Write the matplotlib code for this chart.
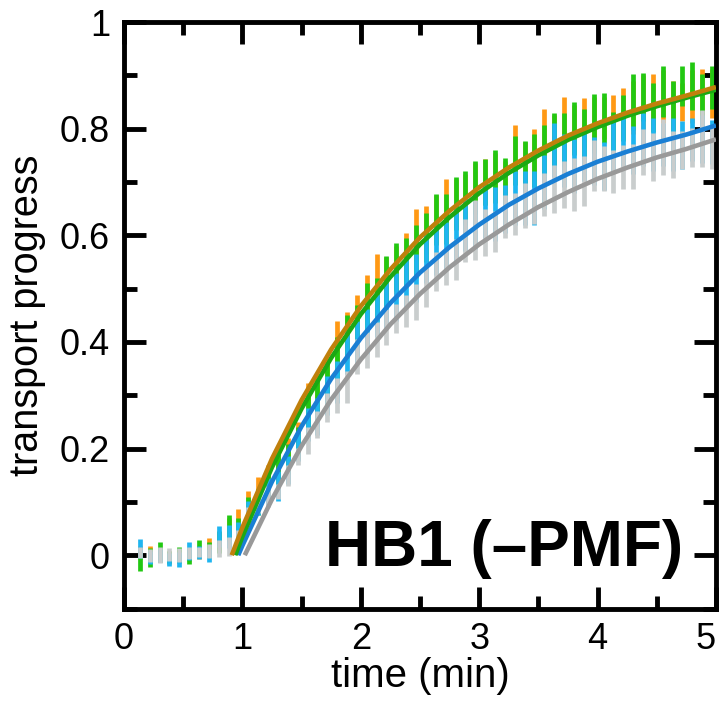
import matplotlib
matplotlib.use('Agg')
import matplotlib.pyplot as plt
import numpy as np

plt.rcParams['font.family'] = ['Liberation Sans', 'DejaVu Sans']

# sampling times (s), one bar every 5 s
times_s = np.arange(8, 300, 5)

orange_mean = [.005, .010, .000, -.003, .000, .000, .005, .016, .025, .048, .066,
               .095, .120, .140, .175, .190, .220, .285, .300, .330, .400,
               .415, .445, .480, .520, .515, .535, .560, .600, .610, .630,
               .660, .660, .670, .690, .700, .710, .700, .760, .730, .750,
               .790, .780, .810, .800, .810, .810, .820, .820, .830, .840,
               .850, .855, .860, .845, .850, .860, .865, .866]
orange_err = [.012, .008, .012, .010, .010, .010, .012, .016, .018, .022, .020,
              .025, .026, .030, .030, .030, .030, .038, .040, .040, .040,
              .041, .043, .046, .044, .045, .045, .045, .049, .045, .045,
              .046, .045, .045, .045, .043, .045, .040, .046, .045, .049,
              .047, .045, .050, .045, .047, .050, .040, .043, .047, .050,
              .050, .048, .050, .045, .035, .050, .047, .046]

green_mean = [-.010, -.005, .006, -.004, .000, -.003, .012, .010, .025, .054, .050,
              .085, .100, .130, .160, .180, .210, .265, .290, .320, .370,
              .410, .430, .465, .480, .515, .540, .550, .570, .595, .630,
              .630, .660, .670, .690, .700, .710, .700, .740, .730, .740,
              .760, .780, .780, .800, .790, .810, .820, .795, .820, .850,
              .860, .840, .870, .840, .880, .880, .860, .877]
green_err = [.020, .018, .018, .012, .015, .014, .016, .015, .020, .022, .020,
             .024, .025, .030, .030, .028, .030, .040, .040, .040, .040,
             .040, .040, .045, .040, .047, .045, .045, .050, .046, .048,
             .047, .050, .050, .050, .043, .050, .045, .046, .047, .050,
             .046, .050, .050, .050, .047, .055, .047, .037, .043, .053,
             .045, .046, .048, .050, .037, .045, .042, .040]

blue_mean = [.012, -.004, .000, -.008, -.008, .008, .005, .000, .035, .035, .045,
             .080, .095, .120, .130, .160, .205, .245, .260, .300, .325,
             .380, .400, .420, .450, .470, .485, .510, .520, .555, .570,
             .580, .600, .620, .620, .645, .640, .650, .670, .670, .670,
             .700, .760, .740, .730, .750, .740, .730, .770, .780, .760,
             .780, .770, .770, .770, .770, .780, .780, .775]
blue_err = [.018, .012, .012, .012, .014, .017, .012, .012, .019, .021, .018,
            .022, .020, .025, .028, .026, .028, .031, .035, .037, .040,
            .040, .040, .042, .040, .045, .045, .045, .045, .045, .045,
            .045, .050, .050, .045, .050, .050, .045, .050, .050, .050,
            .050, .050, .050, .050, .048, .045, .045, .050, .050, .045,
            .050, .050, .040, .050, .045, .040, .045, .042]

gray_mean = [.005, .000, .000, .002, .000, .004, .006, .008, .012, .016, .026,
             .075, .095, .110, .120, .150, .186, .215, .245, .277, .300,
             .315, .372, .385, .405, .428, .444, .458, .475, .503, .532,
             .540, .555, .590, .610, .605, .607, .635, .640, .656, .654,
             .677, .687, .695, .695, .702, .731, .725, .720, .728, .729,
             .756, .746, .766, .751, .760, .765, .782, .766]
gray_err = [.010, .012, .015, .012, .013, .012, .010, .013, .016, .018, .021,
            .016, .015, .020, .014, .020, .016, .025, .025, .027, .033,
            .030, .033, .034, .033, .034, .028, .030, .034, .037, .036,
            .033, .038, .040, .056, .044, .039, .040, .040, .042, .033,
            .040, .045, .044, .050, .047, .048, .042, .040, .042, .043,
            .043, .045, .053, .044, .036, .036, .053, .041]

# fitted curves (min, progress)
orange_fit_t = [0.91, 1.0, 1.25, 1.5, 1.75, 2.0, 2.25, 2.5, 2.75, 3.0, 3.25, 3.5, 3.75, 4.0, 4.25, 4.5, 4.75, 5.0]
orange_fit = [0, .052, .181, .291, .386, .467, .536, .596, .646, .690, .727, .759, .787, .810, .830, .847, .862, .878]
green_fit_t = [0.94, 1.0, 1.25, 1.5, 1.75, 2.0, 2.25, 2.5, 2.75, 3.0, 3.25, 3.5, 3.75, 4.0, 4.25, 4.5, 4.75, 5.0]
green_fit = [0, .035, .165, .275, .370, .452, .522, .583, .634, .679, .717, .750, .779, .803, .824, .842, .858, .873]
blue_fit_t = [0.965, 1.0, 1.25, 1.5, 1.75, 2.0, 2.25, 2.5, 2.75, 3.0, 3.25, 3.5, 3.75, 4.0, 4.25, 4.5, 4.75, 5.0]
blue_fit = [0, .018, .138, .242, .331, .407, .473, .530, .578, .620, .657, .688, .715, .738, .757, .774, .789, .806]
gray_fit_t = [1.02, 1.25, 1.5, 1.75, 2.0, 2.25, 2.5, 2.75, 3.0, 3.25, 3.5, 3.75, 4.0, 4.25, 4.5, 4.75, 5.0]
gray_fit = [0, .105, .205, .292, .367, .433, .490, .540, .583, .620, .653, .681, .706, .727, .746, .762, .780]

t = times_s / 60.0

fig = plt.figure(figsize=(7.23, 7.08), dpi=100)
ax = fig.add_axes([0.1715, 0.1405, 0.8188, 0.8284])

bars = [(orange_mean, orange_err, '#ff9914'),
        (green_mean, green_err, '#22c812'),
        (blue_mean, blue_err, '#1fb5f0'),
        (gray_mean, gray_err, '#c9cdcd')]
for m, e, c in bars:
    m = np.array(m)
    e = np.array(e)
    ax.vlines(t, m - e, m + e, color=c, lw=3.4, zorder=2)

fits = [(gray_fit_t, gray_fit, '#999999'),
        (blue_fit_t, blue_fit, '#1a7fd4'),
        (green_fit_t, green_fit, '#1ca814'),
        (orange_fit_t, orange_fit, '#c0800c')]
for ft, fv, c in fits:
    ax.plot(ft, fv, color=c, lw=3.3, solid_capstyle='butt', zorder=3)

ax.set_xlim(0, 5)
ax.set_ylim(-0.1, 1.0)
ax.set_xticks(np.arange(0, 5.01, 1))
ax.set_xticks(np.arange(0.5, 5, 1), minor=True)
ax.set_yticks([0, 0.2, 0.4, 0.6, 0.8, 1])
ax.set_yticklabels(['0', '0.2', '0.4', '0.6', '0.8', '1'])
ax.set_yticks(np.arange(-0.1, 1.0, 0.2), minor=True)

for s in ax.spines.values():
    s.set_linewidth(3.5)
ax.tick_params(which='both', direction='in', top=True, right=True, width=3.5,
               labelsize=26, pad=10)
ax.tick_params(which='major', length=16)
ax.tick_params(which='minor', length=9.5)
# keep the last x label inside the canvas
ax.get_xticklabels()[-1].set_ha('right')
ax.get_xticklabels()[-1].set_x(4.99)

ax.set_xlabel('time (min)', fontsize=29, labelpad=0)
ax.set_ylabel('transport progress', fontsize=28.5, labelpad=10)

ax.text(4.72, -0.021, 'HB1 (\u2013PMF)', fontsize=46, fontweight='bold',
        ha='right', va='baseline', zorder=5)

fig.savefig('out.png', dpi=100)
